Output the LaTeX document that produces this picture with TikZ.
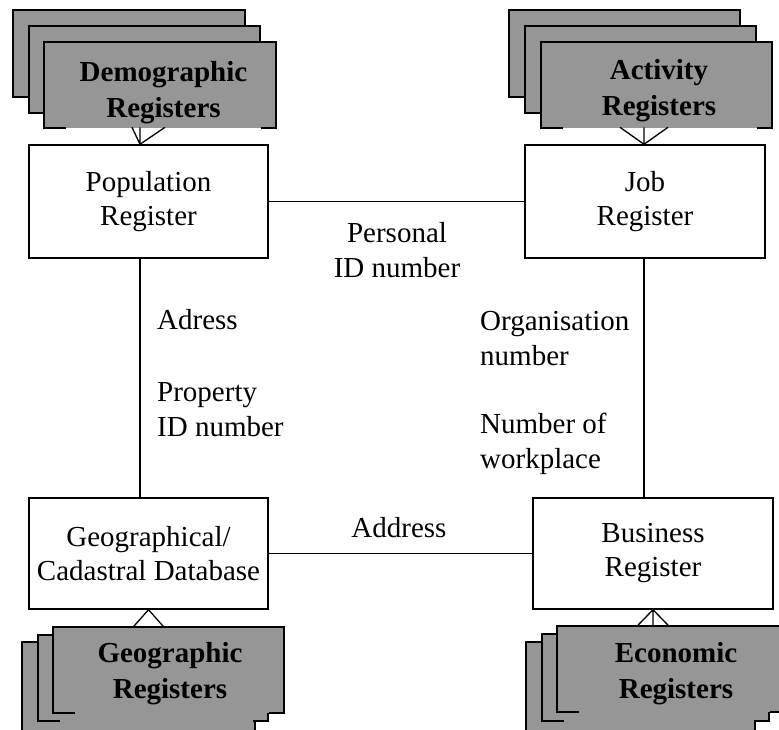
\documentclass[tikz,border=0pt]{standalone}
\usepackage{fontspec}
\setmainfont{Liberation Serif}
\usetikzlibrary{calc}
\definecolor{sheetgray}{RGB}{150,150,150}

% one sheet of a register stack: grey fill, outline with an open bottom edge
\newcommand\regsheet[4]{%
  \fill[sheetgray] (#1,#2) rectangle (#3,#4);
  \draw[edge] (#1+22,#4) -- (#1,#4) -- (#1,#2) -- (#3,#2) -- (#3,#4) -- (#3-15,#4);
}

\begin{document}
\begin{tikzpicture}[x=1pt,y=-1pt,
  edge/.style={line width=1.4pt, line cap=butt, line join=miter},
  link/.style={line width=1.3pt},
  txt/.style={font=\fontsize{29}{34}\selectfont, inner sep=0pt},
  regbox/.style={txt, draw, line width=1.4pt, fill=white, align=center},
  sheetlbl/.style={font=\fontsize{29}{36}\selectfont\bfseries, inner sep=0pt, align=center, anchor=base},
  lbl/.style={font=\fontsize{29}{35}\selectfont, inner sep=0pt, align=left, anchor=base west}]
\useasboundingbox (0,0) rectangle (779,729);
\clip (0,0) rectangle (779,729);

% register stacks
\regsheet{13}{10}{245}{97}
\regsheet{29}{26}{260}{113}
\regsheet{44}{42}{276}{128}
\regsheet{509}{10}{740}{97}
\regsheet{525}{26}{756}{113}
\regsheet{541}{42}{772}{128}
\regsheet{22}{642}{255}{745}
\regsheet{38}{635}{268}{721}
\regsheet{53}{627}{284}{713}
\regsheet{526}{642}{755}{745}
\regsheet{542}{634}{769}{721}
\regsheet{557}{626}{785}{712}

% stack titles (placed by the baseline of their last line)
\node[sheetlbl] (demog) at (163.5,117) {Demographic\\Registers};
\node[sheetlbl] (activ) at (659,115) {Activity\\Registers};
\node[sheetlbl] (geog) at (170,698) {Geographic\\Registers};
\node[sheetlbl] (econ) at (676,698) {Economic\\Registers};

% central registers
\node[regbox, minimum width=239pt, minimum height=113pt] (pop) at (148.5,201.5) {Population\\Register};
\node[regbox, minimum width=240pt, minimum height=113pt] (job) at (645,201.5) {Job\\Register};
\node[regbox, minimum width=239pt, minimum height=111pt] (geo) at (148.5,553.5) {Geographical/\\Cadastral Database};
\node[regbox, minimum width=240pt, minimum height=111pt] (bus) at (653,553.5) {Business\\Register};

% links between registers
\draw[link] (pop.east) -- (job.west);
\draw[link] ($(pop.south)+(-8.5,0)$) -- ($(geo.north)+(-8.5,0)$);
\draw[link] ($(job.south)+(-1,0)$) -- ($(job.south |- bus.north)+(-1,0)$);
\draw[link] (geo.east) -- (bus.west);

% crow's feet from the stacks
\coordinate (demfork) at ($(pop.north)+(-8.5,0)$);
\draw[link] (demfork) -- ++(-8,-17) (demfork) -- ++(0,-17) (demfork) -- ++(25,-17);
\coordinate (actfork) at ($(job.north)+(-1,0)$);
\draw[link] (actfork) -- ++(-24,-17) (actfork) -- ++(0,-17) (actfork) -- ++(24,-17);
\coordinate (geofork) at (geo.south);
\draw[link] (geofork) -- ++(-15.5,17.5) (geofork) -- ++(15.5,17.5);
\coordinate (ecofork) at (bus.south);
\draw[link] (ecofork) -- ++(-16,16.5) (ecofork) -- ++(0,16.5) (ecofork) -- ++(16,16.5);

% link labels (placed by the baseline of their last line)
\node[lbl, align=center, anchor=base] (pid) at (397,277) {Personal\\ID number};
\node[lbl] (adr) at (157,329) {Adress};
\node[lbl] (prop) at (157,436) {Property\\ID number};
\node[lbl] (org) at (480,365) {Organisation\\number};
\node[lbl] (nwp) at (480,468) {Number of\\workplace};
\node[lbl, anchor=base] (addr) at (399,537) {Address};
\end{tikzpicture}
\end{document}
